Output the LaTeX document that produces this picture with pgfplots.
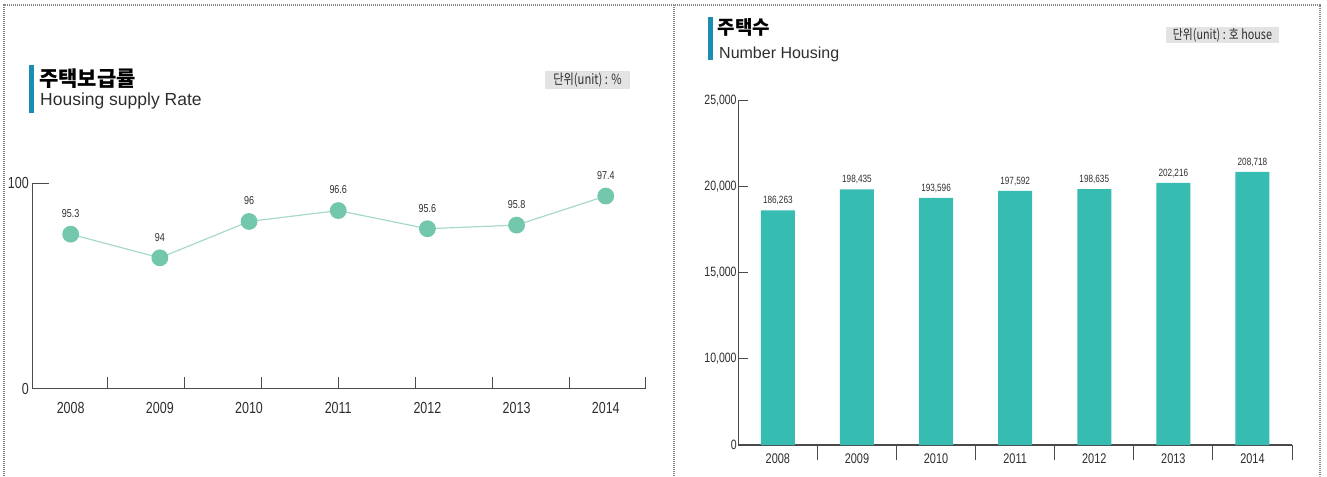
\documentclass[border=0pt]{standalone}
\usepackage{pgfplots}
\usepackage{pgfplotstable}
\pgfplotsset{compat=1.18}
\usepackage{fontspec}
\setmainfont{Liberation Sans}
\newfontfamily\kr{Noto Sans CJK KR}
\newfontfamily\krc[FakeStretch=0.8]{Noto Sans CJK KR}
\newfontfamily\cond[FakeStretch=0.78]{Liberation Sans}

\definecolor{dotgray}{HTML}{858585}
\definecolor{accent}{HTML}{1B8DB3}
\definecolor{mint}{HTML}{72C7AC}
\definecolor{mintline}{HTML}{A6D9C8}
\definecolor{barteal}{HTML}{37BCB1}
\definecolor{axisgray}{HTML}{4A4A4A}
\definecolor{boxgray}{HTML}{E3E3E3}
\definecolor{txt}{HTML}{2E2E2E}

% housing supply rate (%)
\pgfplotstableread{
idx year rate
0 2008 95.3
1 2009 94
2 2010 96
3 2011 96.6
4 2012 95.6
5 2013 95.8
6 2014 97.4
}\ratetable

% number of houses
\pgfplotstableread{
idx year houses
0 2008 186263
1 2009 198435
2 2010 193596
3 2011 197592
4 2012 198635
5 2013 202216
6 2014 208718
}\housetable

\begin{document}
\begin{tikzpicture}[x=1pt,y=1pt]
\path (0,0) rectangle (1327,476);

% panel frames
\draw[dotgray, line width=1.5pt, dash pattern=on 1.2pt off 0.8pt]
  (4,0) -- (4,471) -- (1320,471) -- (1320,0);
\draw[dotgray, line width=1.5pt, dash pattern=on 1.2pt off 0.8pt] (674,0) -- (674,471);

% left header
\fill[accent] (29,363) rectangle (34,411);
\node[anchor=west, inner sep=0pt, font=\kr\bfseries\fontsize{21}{21}\selectfont]
  at (39,397.5) {주택보급률};
\node[anchor=base west, inner sep=0pt, text=txt, font=\fontsize{17.5}{17.5}\selectfont]
  at (40,370) {Housing supply Rate};
\node[fill=boxgray, inner sep=0pt, minimum width=85pt, minimum height=18pt,
  text=txt, font=\krc\fontsize{14}{14}\selectfont] at (587.5,396) {단위(unit) : \%};

% right header
\fill[accent] (708,416) rectangle (713,459);
\node[anchor=west, inner sep=0pt, font=\kr\bfseries\fontsize{19}{19}\selectfont]
  at (717.5,448.5) {주택수};
\node[anchor=base west, inner sep=0pt, text=txt, font=\fontsize{16}{16}\selectfont]
  at (719,417.5) {Number Housing};
\node[fill=boxgray, inner sep=0pt, minimum width=113pt, minimum height=16pt,
  text=txt, font=\krc\fontsize{13.5}{13.5}\selectfont] at (1222.5,441) {단위(unit) : 호 house};

% left: line chart
\begin{axis}[
  at={(32.7pt,87.3pt)}, anchor=south west,
  scale only axis, width=612.3pt, height=205.4pt,
  xmin=-0.426, xmax=6.44,
  ymin=86.8, ymax=98.1,
  axis lines=left,
  axis line style={-, draw=axisgray, line width=1.2pt},
  tick align=inside,
  xtick={0,...,6},
  xticklabels={2008,2009,2010,2011,2012,2013,2014},
  major x tick style={draw=none},
  minor xtick={0.41,1.273,2.136,2.999,3.862,4.725,5.588,6.44},
  minor tick length=12pt,
  ytick={86.8,98.1},
  yticklabels={0,100},
  major tick length=16pt,
  tick style={draw=axisgray, line width=0.9pt},
  /pgf/number format/assume math mode=true,
  xticklabel style={anchor=north, inner sep=0pt, yshift=-13.6pt, text=txt,
    font=\cond\fontsize{16}{16}\selectfont},
  yticklabel style={anchor=east, inner sep=0pt, xshift=-3.7pt, text=txt,
    font=\cond\fontsize{16}{16}\selectfont},
  clip=false,
]
\addplot[color=mintline, line width=1.2pt, mark=*, mark size=7.8pt,
  mark options={fill=mint, draw=mint},
  nodes near coords,
  every node near coord/.append style={anchor=south, inner sep=0pt, yshift=16pt,
    text=txt, font=\cond\fontsize{11.5}{11.5}\selectfont}]
  table[x=idx, y=rate] {\ratetable};
\end{axis}

% right: bar chart
\begin{axis}[
  at={(738.3pt,31pt)}, anchor=south west,
  scale only axis, width=553.7pt, height=344.3pt,
  xmin=-0.5, xmax=6.5,
  ymin=50000, ymax=250000,
  axis lines=left,
  axis line style={-, draw=axisgray, line width=1.2pt},
  tick align=inside,
  xtick={0,...,6},
  xticklabels={2008,2009,2010,2011,2012,2013,2014},
  major x tick style={draw=none},
  minor xtick={0.5,1.5,...,6.5},
  minor tick length=15pt,
  ytick={50000,100000,150000,200000,250000},
  yticklabels={0,{10,000},{15,000},{20,000},{25,000}},
  scaled y ticks=false,
  major tick length=10pt,
  tick style={draw=axisgray, line width=0.9pt},
  /pgf/number format/assume math mode=true,
  xticklabel style={anchor=north, inner sep=0pt, yshift=1pt, text=txt,
    font=\cond\fontsize{14}{14}\selectfont},
  yticklabel style={anchor=east, inner sep=0pt, xshift=-1.5pt, text=txt,
    font=\cond\fontsize{13.5}{13.5}\selectfont},
  ybar, bar width=34pt,
]
\addplot[fill=barteal, draw=none,
  nodes near coords={\pgfmathprintnumber[fixed, precision=0, 1000 sep={,}]{\pgfplotspointmeta}},
  every node near coord/.append style={anchor=south, inner sep=0pt, yshift=5pt,
    text=txt, font=\cond\fontsize{10.5}{10.5}\selectfont}]
  table[x=idx, y=houses] {\housetable};
\end{axis}
\end{tikzpicture}
\end{document}
